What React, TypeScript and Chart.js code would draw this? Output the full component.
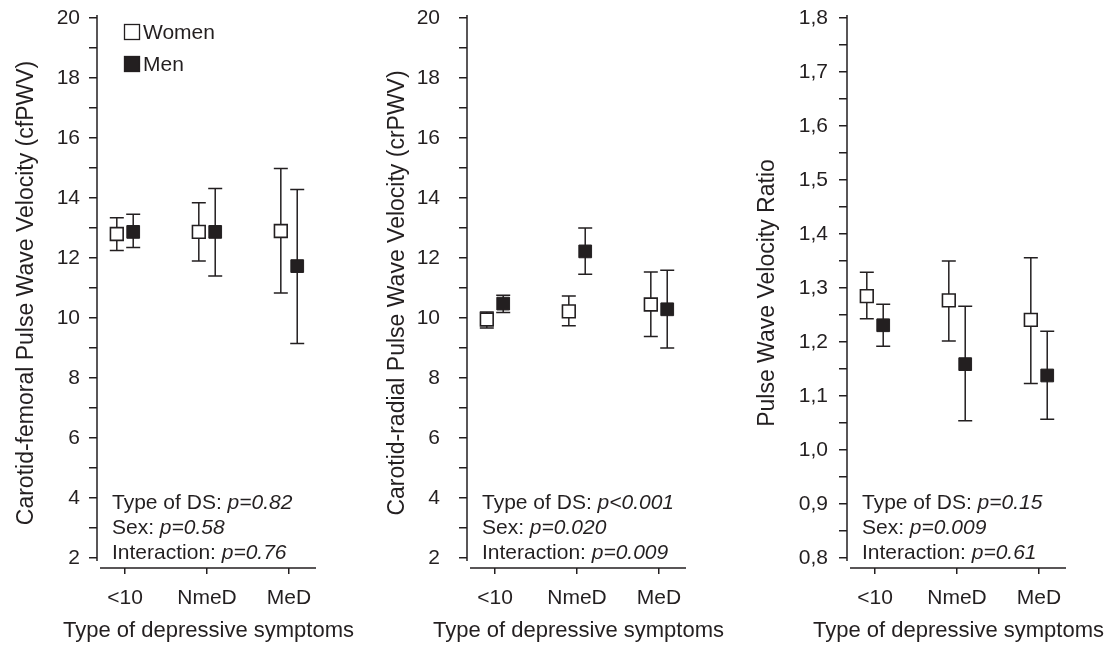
import React, { useEffect, useRef } from 'react';
import { Chart, registerables } from 'chart.js';

Chart.register(...registerables);

// ---------------- data ----------------
const categories = ['<10', 'NmeD', 'MeD'];
const seriesNames = ['Women', 'Men'];
const xAxisTitle = 'Type of depressive symptoms';

// Panel 1: carotid-femoral PWV
const cfWomenMean = [12.8, 12.87, 12.9];
const cfWomenLow = [12.25, 11.9, 10.83];
const cfWomenHigh = [13.34, 13.84, 14.98];
const cfMenMean = [12.87, 12.87, 11.73];
const cfMenLow = [12.35, 11.4, 9.15];
const cfMenHigh = [13.46, 14.32, 14.28];
const cfStats = ['p=0.82', 'p=0.58', 'p=0.76'];

// Panel 2: carotid-radial PWV
const crWomenMean = [9.95, 10.22, 10.45];
const crWomenLow = [9.67, 9.74, 9.38];
const crWomenHigh = [10.2, 10.73, 11.53];
const crMenMean = [10.48, 12.22, 10.29];
const crMenLow = [10.18, 11.46, 9.0];
const crMenHigh = [10.76, 13.0, 11.59];
const crStats = ['p<0.001', 'p=0.020', 'p=0.009'];

// Panel 3: PWV ratio
const ratioWomenMean = [1.285, 1.277, 1.241];
const ratioWomenLow = [1.243, 1.202, 1.123];
const ratioWomenHigh = [1.329, 1.35, 1.356];
const ratioMenMean = [1.231, 1.159, 1.138];
const ratioMenLow = [1.192, 1.054, 1.057];
const ratioMenHigh = [1.27, 1.266, 1.22];
const ratioStats = ['p=0.15', 'p=0.009', 'p=0.61'];

const statLabels = ['Type of DS: ', 'Sex: ', 'Interaction: '];

// ---------------- style ----------------
const INK = '#231f20';
const FONT = "'Liberation Sans', Arial, Helvetica, sans-serif";

type PanelCfg = {
  yTitle: string;
  tickMin: number;
  tickMax: number;
  minorStep: number;
  fmt: (v: number) => string;
  women: number[];
  womenLow: number[];
  womenHigh: number[];
  men: number[];
  menLow: number[];
  menHigh: number[];
  stats: string[];
  left: number;
  width: number;
  axisLeft: number;
  labelPad: number;
  titlePad: number;
  legend: boolean;
};

const panels: PanelCfg[] = [
  {
    yTitle: 'Carotid-femoral Pulse Wave Velocity (cfPWV)',
    tickMin: 2, tickMax: 20, minorStep: 1,
    fmt: (v) => String(Math.round(v)),
    women: cfWomenMean, womenLow: cfWomenLow, womenHigh: cfWomenHigh,
    men: cfMenMean, menLow: cfMenLow, menHigh: cfMenHigh,
    stats: cfStats,
    left: 0, width: 372, axisLeft: 97, labelPad: 9, titlePad: 13, legend: true,
  },
  {
    yTitle: 'Carotid-radial Pulse Wave Velocity (crPWV)',
    tickMin: 2, tickMax: 20, minorStep: 1,
    fmt: (v) => String(Math.round(v)),
    women: crWomenMean, womenLow: crWomenLow, womenHigh: crWomenHigh,
    men: crMenMean, menLow: crMenLow, menHigh: crMenHigh,
    stats: crStats,
    left: 372, width: 370, axisLeft: 95, labelPad: 19, titlePad: 12, legend: false,
  },
  {
    yTitle: 'Pulse Wave Velocity Ratio',
    tickMin: 0.8, tickMax: 1.8, minorStep: 0.05,
    fmt: (v) => v.toFixed(1).replace('.', ','),
    women: ratioWomenMean, womenLow: ratioWomenLow, womenHigh: ratioWomenHigh,
    men: ratioMenMean, menLow: ratioMenLow, menHigh: ratioMenHigh,
    stats: ratioStats,
    left: 742, width: 373, axisLeft: 105, labelPad: 11, titlePad: 12, legend: false,
  },
];

const CANVAS_H = 646;
const AREA_TOP = 18;
const AREA_BOTTOM = 568;
const TICK_BOTTOM_PX = 558; // pixel of lowest labelled tick
const AREA_W = 219;
const X_MIN = 0.6585;
const X_MAX = 3.329;
const OFFSET = 0.1;

const errorBarPlugin = {
  id: 'errorBars',
  beforeDatasetsDraw(chart: any) {
    const { ctx } = chart;
    const yScale = chart.scales.y;
    ctx.save();
    ctx.strokeStyle = INK;
    ctx.lineWidth = 1.5;
    chart.data.datasets.forEach((ds: any, di: number) => {
      const meta = chart.getDatasetMeta(di);
      meta.data.forEach((pt: any, i: number) => {
        const x = pt.x;
        const yl = yScale.getPixelForValue(ds.errLow[i]);
        const yh = yScale.getPixelForValue(ds.errHigh[i]);
        ctx.beginPath();
        ctx.moveTo(x, yl);
        ctx.lineTo(x, yh);
        ctx.moveTo(x - 7, yl);
        ctx.lineTo(x + 7, yl);
        ctx.moveTo(x - 7, yh);
        ctx.lineTo(x + 7, yh);
        ctx.stroke();
      });
    });
    ctx.restore();
  },
};

const axisLinePlugin = {
  id: 'axisLines',
  afterDraw(chart: any) {
    const { ctx, chartArea } = chart;
    ctx.save();
    ctx.strokeStyle = INK;
    ctx.lineWidth = 1.5;
    ctx.beginPath();
    ctx.moveTo(chartArea.left, chartArea.top - 3);
    ctx.lineTo(chartArea.left, chartArea.bottom - 7);
    ctx.moveTo(chartArea.left + 3, chartArea.bottom);
    ctx.lineTo(chartArea.right, chartArea.bottom);
    ctx.stroke();
    ctx.restore();
  },
};

function makeTextPlugin(cfg: PanelCfg) {
  return {
    id: 'panelText',
    afterDraw(chart: any) {
      const { ctx, chartArea } = chart;
      ctx.save();
      ctx.fillStyle = INK;
      ctx.textBaseline = 'middle';
      ctx.textAlign = 'left';
      const x0 = chartArea.left + 15;
      const ys = [503, 528, 553];
      statLabels.forEach((lab, i) => {
        ctx.font = `21px ${FONT}`;
        ctx.fillText(lab, x0, ys[i]);
        const w = ctx.measureText(lab).width;
        ctx.font = `italic 21px ${FONT}`;
        ctx.fillText(cfg.stats[i], x0 + w, ys[i]);
      });
      // x axis title (drawn at natural width, centred under the axis)
      ctx.textAlign = 'center';
      ctx.font = `22px ${FONT}`;
      ctx.fillText(xAxisTitle, (chartArea.left + chartArea.right) / 2 + 2, 631);
      ctx.textAlign = 'left';
      if (cfg.legend) {
        const sx = chartArea.left + 35;
        const ly = [32, 64];
        chart.data.datasets.forEach((ds: any, i: number) => {
          const y = ly[i];
          ctx.fillStyle = ds.backgroundColor;
          ctx.fillRect(sx - 7.5, y - 7.5, 15, 15);
          ctx.strokeStyle = INK;
          ctx.lineWidth = 1.3;
          ctx.strokeRect(sx - 7.5, y - 7.5, 15, 15);
          ctx.fillStyle = INK;
          ctx.font = `21px ${FONT}`;
          ctx.fillText(ds.label, sx + 11, y + 1);
        });
      }
      ctx.restore();
    },
  };
}

function buildChart(canvas: HTMLCanvasElement, cfg: PanelCfg) {
  const span = cfg.tickMax - cfg.tickMin;
  const pxPerUnit = (TICK_BOTTOM_PX - AREA_TOP) / span;
  const yMin = cfg.tickMin - (AREA_BOTTOM - TICK_BOTTOM_PX) / pxPerUnit;
  const nTicks = Math.round(span / cfg.minorStep) + 1;
  const padRight = cfg.width - cfg.axisLeft - AREA_W;

  return new Chart(canvas, {
    type: 'scatter',
    data: {
      datasets: [
        {
          label: seriesNames[0],
          data: cfg.women.map((v, i) => ({ x: i + 1 - OFFSET, y: v })),
          errLow: cfg.womenLow,
          errHigh: cfg.womenHigh,
          pointStyle: 'rect',
          pointRadius: 9,
          backgroundColor: '#ffffff',
          borderColor: INK,
          borderWidth: 1.6,
        } as any,
        {
          label: seriesNames[1],
          data: cfg.men.map((v, i) => ({ x: i + 1 + OFFSET, y: v })),
          errLow: cfg.menLow,
          errHigh: cfg.menHigh,
          pointStyle: 'rect',
          pointRadius: 9,
          backgroundColor: INK,
          borderColor: INK,
          borderWidth: 1,
        } as any,
      ],
    },
    options: {
      responsive: false,
      animation: false,
      events: [],
      layout: { padding: { left: 0, right: padRight, top: AREA_TOP, bottom: 0 } },
      plugins: { legend: { display: false }, tooltip: { enabled: false } },
      scales: {
        x: {
          type: 'linear',
          min: X_MIN,
          max: X_MAX,
          afterBuildTicks: (s: any) => {
            s.ticks = categories.map((_, i) => ({ value: i + 1 }));
          },
          afterFit: (s: any) => {
            s.height = CANVAS_H - AREA_BOTTOM;
            s.paddingLeft = 0;
            s.paddingRight = 0;
          },
          ticks: {
            autoSkip: false,
            maxRotation: 0,
            padding: 12,
            color: INK,
            font: { family: FONT, size: 21 },
            callback: (v: any) => categories[Math.round(Number(v)) - 1] ?? '',
          },
          grid: { drawOnChartArea: false, tickLength: 6, color: INK, lineWidth: 1.5 },
          border: { display: false },
          title: { display: false },
        },
        y: {
          type: 'linear',
          min: yMin,
          max: cfg.tickMax,
          afterBuildTicks: (s: any) => {
            s.ticks = Array.from({ length: nTicks }, (_, k) => ({
              value: cfg.tickMin + k * cfg.minorStep,
            }));
          },
          afterFit: (s: any) => {
            s.width = cfg.axisLeft;
            s.paddingTop = 0;
            s.paddingBottom = 0;
          },
          ticks: {
            autoSkip: false,
            padding: cfg.labelPad,
            color: INK,
            font: { family: FONT, size: 21 },
            callback: (v: any, idx: number) => (idx % 2 === 0 ? cfg.fmt(Number(v)) : ''),
          },
          grid: { drawOnChartArea: false, tickLength: 8, color: INK, lineWidth: 1.5 },
          border: { display: false },
          title: {
            display: true,
            text: cfg.yTitle,
            color: INK,
            font: { family: FONT, size: 23 },
            padding: { top: cfg.titlePad, bottom: 0 },
          },
        },
      },
    } as any,
    plugins: [errorBarPlugin, axisLinePlugin, makeTextPlugin(cfg)],
  });
}

function PanelChart({ cfg }: { cfg: PanelCfg }) {
  const ref = useRef<HTMLCanvasElement | null>(null);
  useEffect(() => {
    if (!ref.current) return;
    const chart = buildChart(ref.current, cfg);
    return () => chart.destroy();
  }, [cfg]);
  return (
    <canvas
      ref={ref}
      width={cfg.width}
      height={CANVAS_H}
      style={{ position: 'absolute', left: cfg.left, top: 0, width: cfg.width, height: CANVAS_H }}
    />
  );
}

export default function App() {
  useEffect(() => {
    document.body.style.margin = '0';
    document.body.style.background = '#ffffff';
  }, []);
  return (
    <div style={{ position: 'relative', width: 1115, height: CANVAS_H, background: '#ffffff', overflow: 'hidden' }}>
      {panels.map((p, i) => (
        <PanelChart key={i} cfg={p} />
      ))}
    </div>
  );
}
